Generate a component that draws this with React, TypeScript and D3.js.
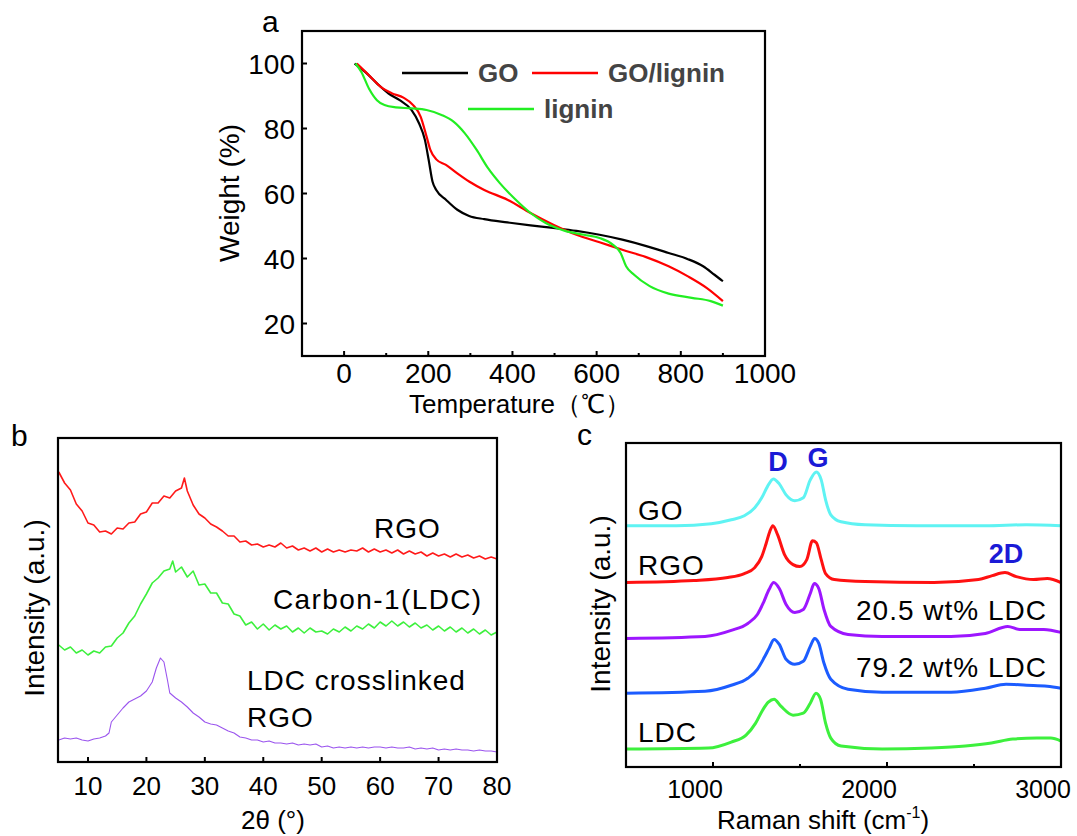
import React, { useEffect, useRef } from "react";
import * as d3 from "d3";

type Pt = [number, number];

// ---------- (a) TGA: temperature (°C) vs weight (%) ----------
const tgaGO: Pt[] = [
  [25, 100], [50, 97.4], [78, 93.9], [105, 90.8], [132, 88.7], [160, 85.7], [178, 81.6],
  [192, 76.5], [201, 70.3], [210, 63.7], [219, 61.1], [242, 58.1], [269, 55.0], [297, 53.1],
  [333, 52.1], [388, 51.1], [443, 50.2], [497, 49.4], [552, 48.5], [607, 47.3], [661, 45.8],
  [716, 43.9], [771, 41.7], [817, 39.8], [853, 37.6], [880, 35.0], [900, 33.0],
];
const tgaGOLignin: Pt[] = [
  [30, 100], [59, 96.4], [87, 92.8], [114, 90.8], [141, 89.5], [164, 87.2], [182, 83.6],
  [196, 77.5], [205, 73.4], [219, 70.5], [242, 68.8], [269, 66.2], [297, 63.7], [333, 61.1],
  [388, 58.1], [443, 54.0], [497, 50.4], [552, 47.3], [607, 45.0], [661, 42.7], [716, 40.5],
  [771, 37.6], [817, 34.5], [862, 30.9], [900, 26.9],
];
const tgaLignin: Pt[] = [
  [27, 100], [41, 97.4], [59, 92.3], [78, 88.7], [96, 87.2], [123, 86.5], [160, 86.2],
  [196, 85.7], [233, 84.1], [260, 82.1], [287, 78.5], [315, 73.4], [342, 67.8], [370, 63.2],
  [406, 58.3], [443, 54.0], [479, 50.9], [525, 48.5], [570, 47.3], [607, 46.3], [639, 44.2],
  [657, 41.7], [670, 37.6], [689, 35.0], [726, 31.5], [771, 29.2], [826, 27.9], [871, 26.9],
  [900, 25.5],
];
const tgaTicksX = [0, 200, 400, 600, 800, 1000];
const tgaMinorX = [100, 300, 500, 700, 900];
const tgaTicksY = [20, 40, 60, 80, 100];

// ---------- (b) XRD: 2θ (°) vs intensity (a.u.) ----------
const xrdRGO: Pt[] = [
  [5, 290], [6, 279], [7, 272], [8, 258], [9, 251], [10, 239], [11, 237], [12, 230], [13, 231],
  [14, 228], [15, 234], [16, 233], [17, 239], [18, 240], [19, 248], [20, 250], [21, 259],
  [22, 259], [23, 266], [24, 264], [25, 271], [26, 274], [26.5, 284], [27, 271], [28, 257],
  [29, 248], [30, 244], [31, 238], [32, 235], [33, 231], [34, 226], [35, 226], [36, 220],
  [37, 221], [38, 217], [39, 218], [40, 215], [41, 217], [42, 215], [43, 219], [44, 214],
  [45, 216], [46, 212], [47, 214], [48, 211], [49, 214], [50, 210], [51, 213], [52, 210],
  [53, 212], [54, 210], [55, 212], [56, 211], [57, 214], [58, 210], [59, 213], [60, 210],
  [61, 212], [62, 209], [63, 212], [64, 208], [65, 211], [66, 208], [67, 210], [68, 206],
  [69, 209], [70, 206], [71, 208], [72, 205], [73, 208], [74, 205], [75, 207], [76, 204],
  [77, 206], [78, 203], [79, 205], [80, 203],
];
const xrdLDC: Pt[] = [
  [5, 117], [6, 112], [7, 115], [8, 109], [9, 112], [10, 107], [11, 111], [12, 109], [13, 115],
  [14, 116], [15, 124], [16, 129], [17, 139], [18, 146], [19, 158], [20, 168], [21, 179],
  [22, 184], [23, 191], [24, 193], [24.5, 201], [25, 190], [26, 195], [27, 185], [28, 191],
  [29, 177], [30, 178], [31, 169], [32, 169], [33, 159], [34, 158], [35, 148], [36, 146],
  [37, 137], [38, 140], [39, 133], [40, 138], [41, 132], [42, 137], [43, 133], [44, 136],
  [45, 130], [46, 134], [47, 129], [48, 134], [49, 130], [50, 131], [51, 128], [52, 133],
  [53, 130], [54, 135], [55, 131], [56, 136], [57, 133], [58, 138], [59, 134], [60, 140],
  [61, 136], [62, 141], [63, 136], [64, 140], [65, 135], [66, 139], [67, 134], [68, 137],
  [69, 132], [70, 136], [71, 131], [72, 135], [73, 130], [74, 134], [75, 129], [76, 133],
  [77, 128], [78, 132], [79, 127], [80, 130],
];
const xrdLDCRGO: Pt[] = [
  [5, 22], [6, 24], [7, 23], [8, 24], [9, 22], [10, 21], [11, 23], [12, 24], [13, 26],
  [13.6, 29], [14, 40], [15, 47], [16, 54], [17, 60], [18, 63], [19, 66], [20, 71], [21, 80],
  [21.7, 94], [22.4, 104], [23, 100], [23.6, 82], [24, 69], [25, 64], [26, 60], [27, 55],
  [28, 49], [29, 45], [30, 40], [31, 38], [32, 37], [33, 34], [34, 31], [35, 29], [36, 25],
  [37, 24], [38, 22], [39, 22], [40, 20], [41, 21], [42, 19], [43, 19], [44, 18], [45, 19],
  [46, 17], [47, 18], [48, 17], [49, 18], [50, 15], [51, 16], [52, 14], [53, 15], [54, 14],
  [55, 15], [56, 14], [57, 15], [58, 14], [59, 15], [60, 15], [61, 14], [62, 15], [63, 14],
  [64, 14], [65, 15], [66, 13], [67, 14], [68, 13], [69, 14], [70, 12], [71, 13], [72, 12],
  [73, 13], [74, 12], [75, 12], [76, 11], [77, 12], [78, 11], [79, 11], [80, 10],
];
const xrdTicks = [10, 20, 30, 40, 50, 60, 70, 80];

// ---------- (c) Raman: shift (cm-1) vs intensity (a.u.), stacked ----------
const ramanGO: Pt[] = [
  [500, 242], [790, 242], [990, 244], [1105, 248], [1180, 252], [1240, 260], [1280, 270],
  [1312, 281], [1347, 289], [1381, 284], [1420, 273], [1470, 267], [1519, 270], [1559, 288],
  [1594, 296], [1622, 288], [1647, 268], [1677, 253], [1736, 246], [1874, 243], [2170, 242],
  [2565, 242], [2800, 243], [3000, 242],
];
const ramanRGO: Pt[] = [
  [500, 185], [890, 187], [1085, 190], [1180, 194], [1240, 200], [1280, 211], [1305, 224],
  [1326, 236], [1344, 242], [1371, 233], [1411, 213], [1460, 203], [1499, 201], [1539, 208],
  [1572, 227], [1594, 225], [1622, 208], [1647, 194], [1697, 188], [1874, 186], [2270, 185],
  [2526, 188], [2605, 192], [2678, 195], [2743, 191], [2842, 188], [2921, 189], [3000, 185],
];
const raman205: Pt[] = [
  [500, 129], [954, 131], [1105, 137], [1200, 144], [1255, 153], [1290, 165], [1322, 178],
  [1349, 185], [1381, 179], [1420, 163], [1470, 155], [1519, 158], [1559, 174], [1582, 184],
  [1608, 179], [1638, 158], [1677, 141], [1776, 133], [1973, 131], [2368, 131], [2565, 134],
  [2694, 141], [2763, 138], [2901, 138], [3000, 135],
];
const raman792: Pt[] = [
  [500, 74], [954, 76], [1105, 82], [1200, 89], [1255, 98], [1295, 110], [1322, 119],
  [1351, 128], [1381, 123], [1420, 108], [1470, 103], [1519, 106], [1559, 121], [1584, 129],
  [1608, 124], [1638, 104], [1677, 88], [1776, 78], [1973, 75], [2368, 75], [2565, 79],
  [2684, 83], [2802, 82], [2921, 81], [3000, 79],
];
const ramanLDC: Pt[] = [
  [500, 18], [973, 19], [1105, 25], [1190, 32], [1245, 44], [1285, 57], [1318, 65],
  [1351, 68], [1390, 61], [1460, 52], [1519, 54], [1559, 64], [1592, 74], [1618, 68],
  [1647, 44], [1677, 29], [1736, 21], [1973, 18], [2250, 19], [2450, 21], [2600, 24],
  [2723, 28], [2862, 29], [2941, 29], [3000, 26],
];
const ramanTicks = [1000, 2000, 3000];
const ramanMinor = [1500, 2500];

const FONT = "'Liberation Sans', Arial, Helvetica, sans-serif";

export default function App() {
  const ref = useRef<SVGSVGElement>(null);

  useEffect(() => {
    const svg = d3.select(ref.current);
    svg.selectAll("*").remove();
    svg.append("rect").attr("width", 1077).attr("height", 836).attr("fill", "#fff");

    const txt = (x: number, y: number, s: string, size: number, opts: any = {}) =>
      svg
        .append("text")
        .attr("x", x)
        .attr("y", y)
        .attr("font-family", FONT)
        .attr("font-size", size)
        .attr("font-weight", opts.bold ? "bold" : "normal")
        .attr("fill", opts.fill || "#000")
        .attr("text-anchor", opts.anchor || "start")
        .attr("letter-spacing", opts.ls || 0)
        .text(s);

    const frame = (x: any, y: any) => {
      const [x0, x1] = x.range();
      const [y0, y1] = y.range();
      svg
        .append("rect")
        .attr("x", x0)
        .attr("y", y1)
        .attr("width", x1 - x0)
        .attr("height", y0 - y1)
        .attr("fill", "none")
        .attr("stroke", "#000")
        .attr("stroke-width", 2.2);
    };

    const xTicks = (x: any, y: any, major: number[], minor: number[]) => {
      const yb = y.range()[0];
      major.forEach((t) =>
        svg.append("line").attr("x1", x(t)).attr("x2", x(t)).attr("y1", yb).attr("y2", yb - 5)
          .attr("stroke", "#000").attr("stroke-width", 2)
      );
      minor.forEach((t) =>
        svg.append("line").attr("x1", x(t)).attr("x2", x(t)).attr("y1", yb).attr("y2", yb - 3)
          .attr("stroke", "#000").attr("stroke-width", 2)
      );
    };

    const line = (x: any, y: any, data: Pt[], color: string, w: number, curve: any) =>
      svg
        .append("path")
        .datum(data)
        .attr("fill", "none")
        .attr("stroke", color)
        .attr("stroke-width", w)
        .attr("stroke-linejoin", "round")
        .attr(
          "d",
          d3
            .line<Pt>()
            .x((d) => x(d[0]))
            .y((d) => y(d[1]))
            .curve(curve)
        );

    // ================= panel a =================
    const xa = d3.scaleLinear().domain([-100, 1000]).range([302, 765]);
    const ya = d3.scaleLinear().domain([10, 110]).range([356, 31]);
    line(xa, ya, tgaGO, "#000000", 2.2, d3.curveMonotoneX);
    line(xa, ya, tgaGOLignin, "#ff0000", 2.2, d3.curveMonotoneX);
    line(xa, ya, tgaLignin, "#22ee22", 2.2, d3.curveMonotoneX);
    frame(xa, ya);
    xTicks(xa, ya, tgaTicksX, tgaMinorX);
    tgaTicksY.forEach((t) =>
      svg.append("line").attr("x1", 302).attr("x2", 307).attr("y1", ya(t)).attr("y2", ya(t))
        .attr("stroke", "#000").attr("stroke-width", 2)
    );
    tgaTicksX.forEach((t) => txt(xa(t), 383, String(t), 28, { anchor: "middle" }));
    tgaTicksY.forEach((t) => txt(295, ya(t) + 10, String(t), 28, { anchor: "end" }));
    txt(520, 413, "Temperature（℃）", 26, { anchor: "middle" });
    svg
      .append("text")
      .attr("transform", "translate(239,193) rotate(-90)")
      .attr("font-family", FONT)
      .attr("font-size", 28)
      .attr("text-anchor", "middle")
      .text("Weight (%)");
    txt(262, 32, "a", 30);

    // legend
    const legend = [
      { x: 402, y: 73, c: "#000000", t: "GO" },
      { x: 532, y: 73, c: "#ff0000", t: "GO/lignin" },
      { x: 468, y: 109, c: "#22ee22", t: "lignin" },
    ];
    legend.forEach((l) => {
      svg.append("line").attr("x1", l.x).attr("x2", l.x + 66).attr("y1", l.y).attr("y2", l.y)
        .attr("stroke", l.c).attr("stroke-width", 2.5);
      txt(l.x + 76, l.y + 9, l.t, 26, { bold: true, fill: "#444444" });
    });

    // ================= panel b =================
    const xb = d3.scaleLinear().domain([4.87, 80]).range([58, 497]);
    const yb = d3.scaleLinear().domain([0, 324]).range([762, 438]);
    line(xb, yb, xrdRGO, "#ff1a1a", 1.6, d3.curveLinear);
    line(xb, yb, xrdLDC, "#3df03d", 1.6, d3.curveLinear);
    line(xb, yb, xrdLDCRGO, "#9b55ee", 1.1, d3.curveLinear);
    frame(xb, yb);
    xTicks(xb, yb, xrdTicks.slice(0, -1), []);
    xrdTicks.forEach((t) => txt(xb(t), 795, String(t), 26, { anchor: "middle" }));
    txt(273, 829, "2θ (°)", 26, { anchor: "middle" });
    svg
      .append("text")
      .attr("transform", "translate(44,608) rotate(-90)")
      .attr("font-family", FONT)
      .attr("font-size", 28)
      .attr("text-anchor", "middle")
      .text("Intensity (a.u.)");
    txt(11, 446, "b", 30);
    txt(374, 538, "RGO", 28, { ls: 1 });
    txt(273, 609, "Carbon-1(LDC)", 28, { ls: 1.4 });
    txt(247, 690, "LDC crosslinked", 28, { ls: 1 });
    txt(247, 727, "RGO", 28, { ls: 1 });

    // ================= panel c =================
    const xc = d3.scaleLinear().domain([500, 3000]).range([626, 1061]);
    const yc = d3.scaleLinear().domain([0, 325]).range([767, 443]);
    line(xc, yc, ramanGO, "#5ff3f3", 3, d3.curveMonotoneX);
    line(xc, yc, ramanRGO, "#ff1111", 3, d3.curveMonotoneX);
    line(xc, yc, raman205, "#9d16ff", 3, d3.curveMonotoneX);
    line(xc, yc, raman792, "#1c5cff", 3, d3.curveMonotoneX);
    line(xc, yc, ramanLDC, "#3df03d", 3, d3.curveMonotoneX);
    frame(xc, yc);
    xTicks(xc, yc, ramanTicks.slice(0, -1), ramanMinor);
    ramanTicks.forEach((t) => txt(xc(t) - 18, 798, String(t), 25, { anchor: "middle" }));
    const rs = txt(717, 829, "Raman shift (cm", 26);
    rs.append("tspan").attr("font-size", 16).attr("dy", -11).text("-1");
    rs.append("tspan").attr("dy", 11).text(")");
    svg
      .append("text")
      .attr("transform", "translate(610,604) rotate(-90)")
      .attr("font-family", FONT)
      .attr("font-size", 28)
      .attr("text-anchor", "middle")
      .text("Intensity (a.u.)");
    txt(577, 445, "c", 30);
    txt(638, 520, "GO", 28, { ls: 1 });
    txt(638, 575, "RGO", 28, { ls: 1 });
    txt(1047, 620, "20.5 wt% LDC", 28, { anchor: "end", ls: 1 });
    txt(1047, 677, "79.2 wt% LDC", 28, { anchor: "end", ls: 1 });
    txt(638, 742, "LDC", 28, { ls: 1 });
    txt(778, 471, "D", 27, { anchor: "middle", bold: true, fill: "#1a1ad6" });
    txt(818, 467, "G", 27, { anchor: "middle", bold: true, fill: "#1a1ad6" });
    txt(1006, 563, "2D", 27, { anchor: "middle", bold: true, fill: "#1a1ad6" });
  }, []);

  return (
    <svg
      ref={ref}
      width={1077}
      height={836}
      style={{ position: "absolute", left: 0, top: 0 }}
    />
  );
}
